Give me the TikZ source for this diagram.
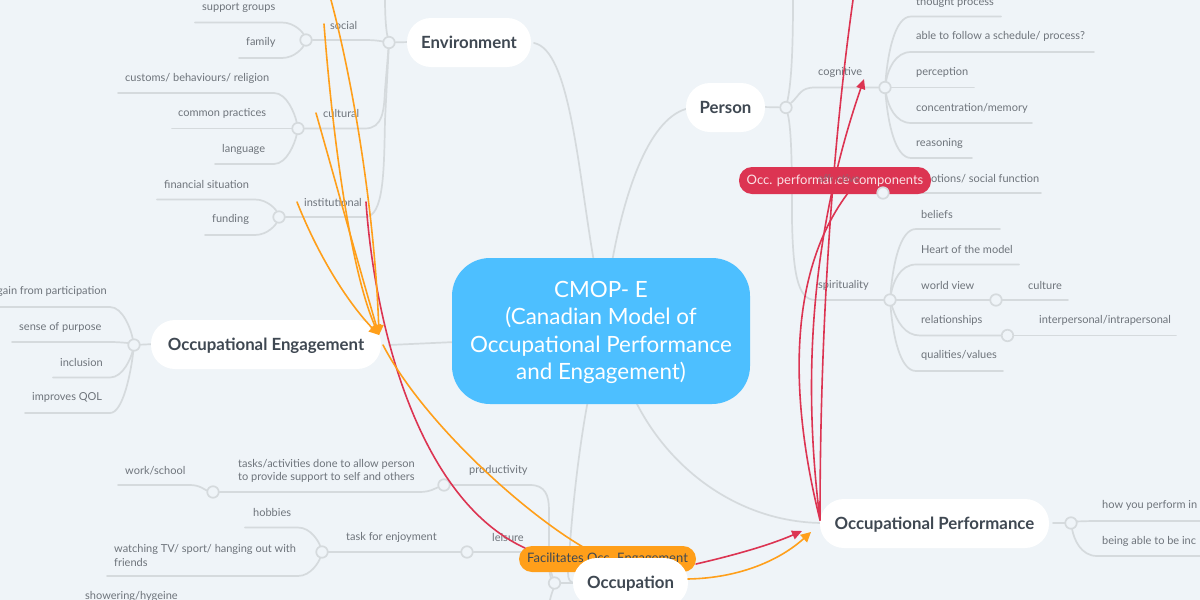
\documentclass[tikz,border=0pt]{standalone}
\usepackage{fontspec}
\setmainfont{Lato}
\usetikzlibrary{calc,arrows.meta}
\pgfdeclarelayer{under}
\pgfdeclarelayer{over}
\pgfsetlayers{under,main,over}
\definecolor{bgc}{HTML}{EFF4F8}
\definecolor{linec}{HTML}{D5DADD}
\definecolor{txtc}{HTML}{6E747B}
\definecolor{darkc}{HTML}{3F4852}
\definecolor{bluec}{HTML}{4DBFFF}
\definecolor{redc}{HTML}{DC3452}
\definecolor{orangec}{HTML}{FF9F1A}
\tikzset{
  br/.style={draw=linec,line width=1.7pt,line cap=round},
  joint/.style={circle,draw=linec,fill=bgc,line width=1.7pt,minimum size=11.5pt,inner sep=0pt},
  lab/.style={font=\fontsize{11}{13.6}\selectfont,text=txtc,inner sep=0pt,anchor=west,align=left,yshift=-0.8pt},
  topic/.style={fill=white,rounded corners=24pt,font=\fontsize{16.8}{18}\selectfont\bfseries,text=darkc,inner sep=0pt,text height=15pt,text depth=3.5pt},
  rel/.style={line width=1.6pt,line cap=round},
  redrel/.style={rel,draw=redc},
  orangerel/.style={rel,draw=orangec},
  redtip/.style={-{Triangle[length=10pt,width=9pt,fill=redc]}},
  orangetip/.style={-{Triangle[length=10pt,width=10pt,fill=orangec]}},
}
% leaf to the left of a joint, leaf to the right of a joint
\newcommand\lbr[2]{\draw[br] (#2) -- ($(#2 -| #1)+(-24,0)$) .. controls ($(#2 -| #1)+(-11,0)$) and ($($(#1)!0.4!(#2 -| #1)$)+(-3,0)$) .. (#1);}
\newcommand\rbr[2]{\draw[br] (#2) -- ($(#2 -| #1)+(26,0)$) .. controls ($(#2 -| #1)+(10,0)$) and ($($(#1)!0.5!(#2 -| #1)$)+(3,0)$) .. (#1);}
\begin{document}
\begin{tikzpicture}[x=1pt,y=-1pt]
\useasboundingbox (0,0) rectangle (1200,600);
\begin{pgfonlayer}{under}
\fill[bgc] (0,0) rectangle (1200,600);
\end{pgfonlayer}

% attachment points of the main nodes
\coordinate (cenT) at (594,262);
\coordinate (cenTR) at (612,262);
\coordinate (cenL) at (455,342);
\coordinate (cenB) at (588,400);
\coordinate (cenBR) at (636,402);
\coordinate (envR) at (534,43);
\coordinate (perL) at (690,108);
\coordinate (engR) at (389,345);
\coordinate (engL) at (155,344);
\coordinate (perfL) at (824,523);
\coordinate (perfR) at (1053,523);
\coordinate (occL) at (576,583);
\coordinate (envL) at (410,42);
\coordinate (perR) at (762,107);

% joints
\node[joint] (jEnv) at (389,42.5) {};
\node[joint] (jSoc) at (306,40) {};
\node[joint] (jCul) at (298,128.5) {};
\node[joint] (jIns) at (279,217) {};
\node[joint] (jEng) at (134,345) {};
\node[joint] (jPro) at (444,485) {};
\node[joint] (jTsk) at (213,492) {};
\node[joint] (jLei) at (467,552) {};
\node[joint] (jEnj) at (322,552) {};
\node[joint] (jOcc) at (554.5,583) {};
\node[joint] (jPer) at (786,107.5) {};
\node[joint] (jCog) at (885,87.5) {};
\begin{pgfonlayer}{over}
\node[joint] (jAff) at (883,193) {};
\end{pgfonlayer}
\node[joint] (jSpi) at (890,300) {};
\node[joint] (jWor) at (996,300) {};
\node[joint] (jRel) at (1007.5,335.5) {};
\node[joint] (jPrf) at (1071,523) {};

% leaf ends
\coordinate (lSup) at (195,22.5);
\coordinate (lFam) at (239,58);
\coordinate (lCus) at (118,93);
\coordinate (lCom) at (172,128.5);
\coordinate (lLan) at (215,164);
\coordinate (lFin) at (157,199.5);
\coordinate (lFun) at (205,235);
\coordinate (lGai) at (0,307);
\coordinate (lSen) at (12,342);
\coordinate (lInc) at (53,377.5);
\coordinate (lQol) at (25,413);
\coordinate (lWrk) at (118,485);
\coordinate (lHob) at (245,527.5);
\coordinate (lWat) at (107,576);
\coordinate (lTho) at (1001,16.5);
\coordinate (lAbl) at (1094,52);
\coordinate (lPrc) at (974,87.5);
\coordinate (lCon) at (1032,123);
\coordinate (lRea) at (972,158);
\coordinate (lEmo) at (1041,193);
\coordinate (lBel) at (1000,229);
\coordinate (lHea) at (1019,264.5);
\coordinate (lCul) at (1068,300);
\coordinate (lInt) at (1176,335.5);
\coordinate (lQua) at (1003,371);
\coordinate (lHow) at (1200,521);
\coordinate (lBei) at (1200,556);
\coordinate (upEnv) at (385,0);
\coordinate (upPer) at (793,0);
\coordinate (dnOcc) at (550,600);
\coordinate (stubAff) at (800,193);

\begin{pgfonlayer}{under}
% central links
\draw[br] (envR) .. controls (570,50) and (578,170) .. (cenT);
\draw[br] (perL) .. controls (650,115) and (625,190) .. (cenTR);
\draw[br] (engR) -- (cenL);
\draw[br] (cenB) .. controls (575,470) and (570,540) .. (568,573) .. controls (568,580) and (570,583) .. (occL);
\draw[br] (cenBR) .. controls (670,470) and (740,523) .. (perfL);

% first-level stubs
\draw[br] (jEnv) -- (envL);
\draw[br] (jEng) -- (engL);
\draw[br] (jPer) -- (perR);
\draw[br] (jOcc) -- (occL);
\draw[br] (jPrf) -- (perfR);

% Environment branches
\draw[br] (jSoc) -- (365,40) .. controls (375,40) and (380,41) .. (jEnv);
\draw[br] (jCul) -- (365,128.5) .. controls (383,128.5) and (384,110) .. (385,90) -- (jEnv);
\draw[br] (jIns) -- (365,217) .. controls (384,217) and (384,170) .. (385,120) -- (jEnv);
\draw[br] (upEnv) .. controls (385,15) and (386,30) .. (jEnv);
\lbr{jSoc}{lSup}\lbr{jSoc}{lFam}
\lbr{jCul}{lCus}\lbr{jCul}{lCom}\lbr{jCul}{lLan}
\lbr{jIns}{lFin}\lbr{jIns}{lFun}
% Engagement branches
\lbr{jEng}{lGai}\lbr{jEng}{lSen}\lbr{jEng}{lInc}\lbr{jEng}{lQol}
% Occupation branches
\draw[br] (jPro) -- (530,485) .. controls (545,485) and (549,495) .. (549,510) -- (549,565) .. controls (549,572) and (551,578) .. (jOcc);
\draw[br] (jLei) -- (530,552) .. controls (543,552) and (549,565) .. (jOcc);
\draw[br] (jOcc) .. controls (553,590) and (551,595) .. (dnOcc);
\draw[br] (jTsk) -- (420,492) .. controls (430,492) and (436,488) .. (jPro);
\draw[br] (jEnj) -- (jLei);
\draw[br] (lWrk) -- (190,485) .. controls (200,485) and (205,490) .. (jTsk);
\lbr{jEnj}{lHob}\lbr{jEnj}{lWat}
% Person branches
\draw[br] (jPer) .. controls (800,95) and (800,87.5) .. (815,87.5) -- (jCog);
\draw[br] (jPer) .. controls (792,80) and (793,40) .. (upPer);
\draw[br] (jPer) .. controls (792,130) and (792,180) .. (792,220) .. controls (793,270) and (797,300) .. (815,300) -- (jSpi);
\draw[br] (stubAff) -- (jAff);
\rbr{jCog}{lTho}\rbr{jCog}{lAbl}\rbr{jCog}{lPrc}\rbr{jCog}{lCon}\rbr{jCog}{lRea}
\draw[br] (jAff) -- (lEmo);
\rbr{jSpi}{lBel}\rbr{jSpi}{lHea}\rbr{jSpi}{lQua}
\draw[br] (jSpi) -- (jWor);\draw[br] (jWor) -- (lCul);
\draw[br] (jRel) -- (920,335.5) .. controls (905,335.5) and (897,322) .. (jSpi);
\draw[br] (jRel) -- (lInt);
\rbr{jPrf}{lHow}\rbr{jPrf}{lBei}
\end{pgfonlayer}

% labels
\node[lab] (tSup) at (202,7) {support groups};
\node[lab] (tFam) at (246,42) {family};
\node[lab] (tSoc) at (330,25) {social};
\node[lab] (tCus) at (125,78) {customs/ behaviours/ religion};
\node[lab] (tCom) at (178,113) {common practices};
\node[lab] (tCtl) at (323,113) {cultural};
\node[lab] (tLan) at (222,149) {language};
\node[lab] (tFin) at (164,184) {financial situation};
\node[lab] (tFun) at (212,219) {funding};
\node[lab] (tIns) at (304,202) {institutional};
\node[lab] (tGai) at (-3,291) {gain from participation};
\node[lab] (tSen) at (19,327) {sense of purpose};
\node[lab] (tInc) at (60,362) {inclusion};
\node[lab] (tQol) at (32,397) {improves QOL};
\node[lab] (tWrk) at (125,470) {work/school};
\node[lab] (tTsk) at (238,470) {tasks/activities done to allow person\\to provide support to self and others};
\node[lab] (tPro) at (469,470) {productivity};
\node[lab] (tHob) at (253,512) {hobbies};
\node[lab] (tEnj) at (346,537) {task for enjoyment};
\node[lab] (tLei) at (492,537) {leisure};
\node[lab] (tWat) at (114,554.5) {watching TV/ sport/ hanging out with\\friends};
\node[lab] (tSho) at (85,596) {showering/hygeine};
\node[lab] (tTho) at (916,2) {thought process};
\node[lab] (tAbl) at (916,36) {able to follow a schedule/ process?};
\node[lab] (tCog) at (818,72) {cognitive};
\node[lab] (tPrc) at (916,72) {perception};
\node[lab] (tCon) at (916,107.5) {concentration/memory};
\node[lab] (tRea) at (916,143) {reasoning};
\node[lab] (tEmo) at (916,178) {emotions/ social function};
\node[lab] (tBel) at (921,213.5) {beliefs};
\node[lab] (tHea) at (921,249) {Heart of the model};
\node[lab] (tWor) at (921,285) {world view};
\node[lab] (tSpi) at (818,285) {spirituality};
\node[lab] (tCul) at (1028,285) {culture};
\node[lab] (tRel) at (921,320) {relationships};
\node[lab] (tInt) at (1039,320) {interpersonal/intrapersonal};
\node[lab] (tQua) at (921,355) {qualities/values};
\node[lab] (tHow) at (1102,505) {how you perform in};
\node[lab] (tBei) at (1102,541) {being able to be inc};

% topic nodes
\node[fill=bluec,rounded corners=38pt,minimum width=298pt,minimum height=146pt,inner sep=0pt] (center) at (601,331) {};
\node[text=white,align=center,font=\fontsize{22.4}{27.5}\selectfont,inner sep=0pt] (centerText) at (601,332.5) {CMOP- E\\(Canadian Model of\\Occupational Performance\\and Engagement)};
\node[topic,minimum width=124pt,minimum height=49pt] (env) at (469,42.5) {Environment};
\node[topic,minimum width=79pt,minimum height=49pt] (per) at (725.5,107.5) {Person};
\node[topic,minimum width=230pt,minimum height=49pt] (eng) at (266,344.5) {Occupational Engagement};
\node[topic,minimum width=229pt,minimum height=49pt] (perf) at (934.5,523.5) {Occupational Performance};

% relationship labels
\node[fill=redc,rounded corners=13pt,minimum width=192pt,minimum height=27pt,inner sep=0pt,text=white!85!redc,font=\fontsize{13}{15}\selectfont] (occpc) at (835,180.5) {Occ. performance components};
\node[lab,text=txtc!60!redc] (tAff) at (818,178) {affective};
\node[fill=orangec,rounded corners=13pt,minimum width=177pt,minimum height=26pt,inner sep=0pt,text=darkc,font=\fontsize{13}{15}\selectfont] (fac) at (607.5,559) {Facilitates Occ. Engagement};
\node[topic,minimum width=115pt,minimum height=49pt] (occ) at (630.5,582.5) {Occupation};

% relationship lines
\coordinate (rA) at (820,520);
\coordinate (rTipCog) at (864,79);
\coordinate (rTop) at (853,0);
\coordinate (rIns) at (366,202);
\coordinate (rEnd) at (525,548);
\coordinate (rNode) at (848,193);
\coordinate (rStart) at (696,564);
\coordinate (rTipPerf) at (802,531);
\coordinate (oStart) at (688,579);
\coordinate (oTipPerf) at (811,532);
\coordinate (oTipEng) at (379,335);
\coordinate (oIns) at (297,202);
\coordinate (oCul) at (316,113);
\coordinate (oSoc) at (324,24);
\coordinate (oTop) at (331,0);
\coordinate (oFrom) at (383,345);
\coordinate (oEnd) at (583,547);
\draw[redrel] (rA) .. controls (800,440) and (775,290) .. (rNode);
\draw[redrel,redtip] (rA) .. controls (805,400) and (805,250) .. (rTipCog);
\draw[redrel] (rA) .. controls (820,400) and (825,200) .. (rTop);
\draw[redrel] (rIns) .. controls (375,330) and (420,500) .. (rEnd);
\draw[redrel,redtip] (rStart) .. controls (735,555) and (770,545) .. (rTipPerf);
\draw[orangerel,orangetip] (oStart) .. controls (740,578) and (780,560) .. (oTipPerf);
\draw[orangerel] (oFrom) .. controls (422,420) and (520,510) .. (oEnd);
\draw[orangerel,orangetip] (oIns) .. controls (320,260) and (350,305) .. (oTipEng);
\draw[orangerel,orangetip] (oCul) .. controls (335,180) and (360,270) .. (oTipEng);
\draw[orangerel,orangetip] (oSoc) .. controls (332,130) and (350,270) .. (oTipEng);
\draw[orangerel,orangetip] (oTop) .. controls (355,90) and (375,220) .. (oTipEng);
\end{tikzpicture}
\end{document}
